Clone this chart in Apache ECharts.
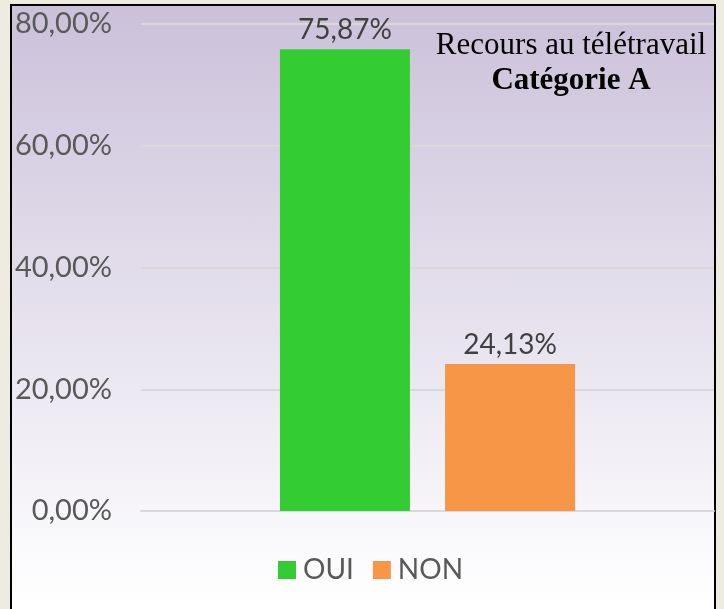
<!DOCTYPE html>
<html>
<head>
<meta charset="utf-8">
<script src="https://cdn.jsdelivr.net/npm/echarts@6/dist/echarts.min.js"></script>
<style>
  html, body { margin: 0; padding: 0; background: #eeece1; overflow: hidden; }
  #frame {
    position: absolute; left: 10px; top: 4px; width: 706px; height: 640px;
    box-sizing: border-box; border: 2px solid #000;
    background: linear-gradient(to bottom, #cbc1da 0px, #ffffff 600px);
  }
  #main { position: absolute; left: 0; top: 0; width: 724px; height: 609px; }
</style>
</head>
<body>
<div id="frame"></div>
<div id="main"></div>
<script>
// Recours au télétravail - Catégorie A
const categories = [''];
const seriesNames = ['OUI', 'NON'];
const ouiValues = [75.87];
const nonValues = [24.13];
const colors = ['#33cc33', '#f79646'];
const yTicks = { min: 0, max: 80, interval: 20 };

function pct(v) {
    return v.toFixed(2).replace('.', ',') + '%';
}

let dom = document.getElementById('main');
let myChart = echarts.init(dom, null, { renderer: 'canvas' });

let barLabel = {
    show: true,
    position: 'top',
    distance: 5,
    fontFamily: 'Lato',
    fontSize: 28,
    color: '#404040',
    formatter(p) { return pct(p.value); }
};

let options = {
    backgroundColor: 'transparent',
    animation: false,
    title: {
        text: '{a|Recours au télétravail}\n{b|Catégorie A}',
        left: 566,
        top: 23,
        textAlign: 'center',
        textStyle: {
            fontWeight: 'normal',
            rich: {
                a: { fontFamily: 'Liberation Serif', fontSize: 31, fontWeight: 'normal', color: '#000', lineHeight: 35, align: 'center' },
                b: { fontFamily: 'Liberation Serif', fontSize: 31, fontWeight: 'bold', color: '#000', lineHeight: 35, align: 'center' }
            }
        }
    },
    legend: {
        data: seriesNames,
        left: 273,
        top: 551,
        itemWidth: 18,
        itemHeight: 18,
        itemGap: 19,
        icon: 'rect',
        textStyle: { fontFamily: 'Lato', fontSize: 28, color: '#595959', padding: [0, 0, 0, 2] }
    },
    grid: { left: 141, right: 10, top: 24, bottom: 98, containLabel: false },
    xAxis: {
        type: 'category',
        data: categories,
        axisLine: { show: true, lineStyle: { color: '#d9d9d9', width: 2 } },
        axisTick: { show: false },
        axisLabel: { show: false }
    },
    yAxis: {
        type: 'value',
        min: yTicks.min,
        max: yTicks.max,
        interval: yTicks.interval,
        axisLine: { show: false },
        axisTick: { show: false },
        splitLine: { lineStyle: { color: '#d9d9d9', width: 2 } },
        axisLabel: {
            margin: 29,
            fontFamily: 'Lato',
            fontSize: 29,
            color: '#595959',
            formatter(v) { return pct(v); }
        }
    },
    series: [
        {
            name: 'OUI',
            type: 'bar',
            data: ouiValues,
            barWidth: 130,
            barGap: '27%',
            itemStyle: { color: colors[0] },
            label: barLabel
        },
        {
            name: 'NON',
            type: 'bar',
            data: nonValues,
            barWidth: 130,
            barGap: '27%',
            itemStyle: { color: colors[1] },
            label: barLabel
        }
    ]
};

myChart.setOption(options);
</script>
</body>
</html>
